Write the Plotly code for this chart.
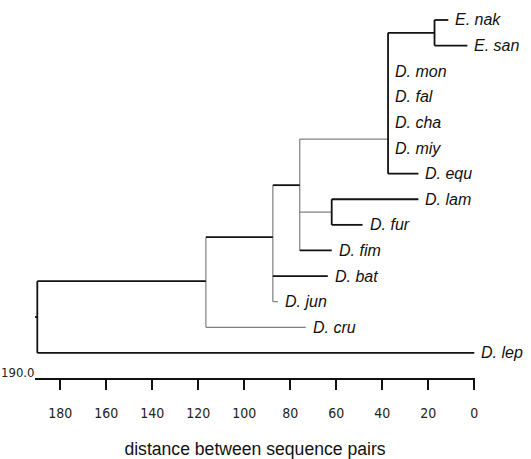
import plotly.graph_objects as go

# ---- data ----
leaf_names = ["E. nak", "E. san", "D. mon", "D. fal", "D. cha", "D. miy", "D. equ",
              "D. lam", "D. fur", "D. fim", "D. bat", "D. jun", "D. cru", "D. lep"]
leaf_dist = [11.3, 3.0, 37.5, 37.5, 37.5, 37.5, 24.3, 24.3, 48.6, 62.0, 63.7, 85.4, 73.3, 0.0]
leaf_rows = list(range(len(leaf_names)))

node_names = ["nE", "nD", "nLF", "nC", "nB", "nA", "root"]
node_dist = [17.3, 37.5, 62.0, 75.9, 87.6, 116.7, 190.0]
node_rows = [0.5, 4.65, 7.5, 6.45, 8.48, 10.2, 11.6]
node_children = [
    ["E. nak", "E. san"],
    ["nE", "D. mon", "D. fal", "D. cha", "D. miy", "D. equ"],
    ["D. lam", "D. fur"],
    ["nD", "nLF", "D. fim"],
    ["nC", "D. bat", "D. jun"],
    ["nB", "D. cru"],
    ["nA", "D. lep"],
]
root_branch = 2.0
tick_values = [180, 160, 140, 120, 100, 80, 60, 40, 20, 0]
axis_title = "distance between sequence pairs"

# ---- styles ----
gray_edges = {"nD", "nLF", "D. cru", "D. jun"}
gray_verticals = {"nA", "nB", "nC"}
BLACK = "#111111"
GRAY = "#808080"
NARROW = "Liberation Sans Narrow, Arial Narrow, DejaVu Sans Condensed, Liberation Sans, sans-serif"

pos = {}
for n, d, r in zip(leaf_names, leaf_dist, leaf_rows):
    pos[n] = (d, r)
for n, d, r in zip(node_names, node_dist, node_rows):
    pos[n] = (d, r)

segs = {BLACK: ([], []), GRAY: ([], [])}


def add(color, x0, y0, x1, y1):
    xs, ys = segs[color]
    xs += [x0, x1, None]
    ys += [y0, y1, None]


for n, kids in zip(node_names, node_children):
    d, r = pos[n]
    rows = [pos[k][1] for k in kids]
    add(GRAY if n in gray_verticals else BLACK, d, min(rows), d, max(rows))
    for k in kids:
        kd, kr = pos[k]
        if kd != d:
            add(GRAY if k in gray_edges else BLACK, d, kr, kd, kr)

rd, rr = pos["root"]
add(BLACK, rd + root_branch, rr, rd, rr)

fig = go.Figure()
for color, width in ((GRAY, 1.2), (BLACK, 1.8)):
    xs, ys = segs[color]
    fig.add_trace(go.Scatter(x=xs, y=ys, mode="lines",
                             line=dict(color=color, width=width),
                             hoverinfo="skip", showlegend=False))

for n, d, r in zip(leaf_names, leaf_dist, leaf_rows):
    fig.add_annotation(x=d, y=r, xref="x", yref="y", text="<i>" + n + "</i>",
                       showarrow=False, xanchor="left", yanchor="middle", xshift=5,
                       font=dict(family="Liberation Sans, Arial, sans-serif", size=16, color="#111"))

fig.add_annotation(x=190, y=0, xref="x", yref="paper", text="190.0", showarrow=False,
                   xanchor="right", yanchor="middle", xshift=-1, yshift=6,
                   font=dict(family=NARROW, size=13, color="#222"))

fig.update_xaxes(range=[191.0, -0.3], tickvals=tick_values,
                 ticktext=[str(v) for v in tick_values],
                 showline=True, linecolor=BLACK, linewidth=2,
                 ticks="outside", ticklen=10, tickwidth=1.5, tickcolor=BLACK,
                 ticklabelstandoff=11, automargin=False,
                 tickfont=dict(family=NARROW, size=14, color="#222"),
                 showgrid=False, zeroline=False,
                 title=dict(text=axis_title, standoff=23,
                            font=dict(family="Liberation Sans, Arial, sans-serif", size=17.6, color="#111")))
fig.update_yaxes(range=[13.98, -0.39], visible=False, showgrid=False, zeroline=False,
                 automargin=False)

fig.update_layout(width=531, height=459, margin=dict(l=35, r=56, t=10, b=81),
                  plot_bgcolor="white", paper_bgcolor="white")

fig.write_html("out.html", config={"displayModeBar": False},
               post_script="document.body.style.margin='0';document.body.style.overflow='hidden';")
